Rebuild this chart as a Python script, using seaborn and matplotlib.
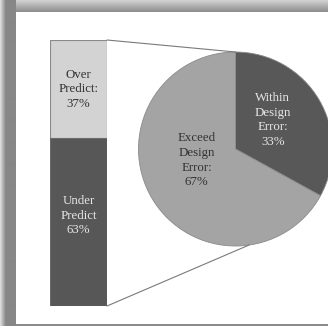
import numpy as np
import matplotlib
matplotlib.use("Agg")
import matplotlib.pyplot as plt
from matplotlib.patches import ConnectionPatch
import seaborn as sns

# Split of all predictions (stacked bar)
bar_labels = ["Over\nPredict:\n37%", "Under\nPredict\n63%"]
bar_values = [37, 63]          # over, under
bar_colors = ["#d3d3d3", "#575757"]
bar_text_colors = ["#333333", "#e6e6e6"]

# Breakdown of the under-predicted share (pie)
pie_labels = ["Within\nDesign\nError:\n33%", "Exceed\nDesign\nError:\n67%"]
pie_values = [33, 67]
pie_colors = ["#585858", "#a4a4a4"]
pie_text_colors = ["#e6e6e6", "#333333"]

W, H = 328, 326
sns.set_theme(style="white")
plt.rcParams["font.family"] = ["Liberation Serif", "DejaVu Serif"]

fig = plt.figure(figsize=(W / 100, H / 100), dpi=100)
fig.patch.set_facecolor("white")

# ---- framed panel background (shadowed border) ----
bg = fig.add_axes([0, 0, 1, 1])
bg.set_xlim(0, W)
bg.set_ylim(H, 0)
bg.axis("off")
top = np.linspace(0.84, 0.56, 12)[:, None] * np.ones((1, 2))
bg.imshow(top, cmap="gray", vmin=0, vmax=1, extent=(0, W, 12.5, 0),
          aspect="auto", interpolation="bilinear")
left = np.ones((2, 1)) * np.concatenate([np.linspace(0.86, 0.55, 6),
                                         np.full(10, 0.53)])[None, :]
bg.imshow(left, cmap="gray", vmin=0, vmax=1, extent=(0, 16, H, 0),
          aspect="auto", interpolation="bilinear")
bg.fill_between([16, W], 323.5, H, color="#8c8c8c", lw=0)

# ---- stacked bar ----
bar_ax = fig.add_axes([50 / W, (H - 306) / H, 57 / W, 266 / H])
total = sum(bar_values)
sns.barplot(x=["all"], y=[total], color=bar_colors[0], saturation=1,
            width=1, edgecolor="#8a8a8a", linewidth=0.8, ax=bar_ax)
sns.barplot(x=["all"], y=[bar_values[1]], color=bar_colors[1], saturation=1,
            width=1, edgecolor="#6a6a6a", linewidth=0.8, ax=bar_ax)
bar_ax.set_xlim(-0.5, 0.5)
bar_ax.set_ylim(0, total)
bar_ax.axis("off")
mid_over = bar_values[1] + bar_values[0] / 2
mid_under = bar_values[1] / 2 + 2.5
for y, lab, tc in [(mid_over, bar_labels[0], bar_text_colors[0]),
                   (mid_under, bar_labels[1], bar_text_colors[1])]:
    bar_ax.text(0, y, lab, ha="center", va="center", color=tc,
                fontsize=9.3, linespacing=1.3)

# ---- pie ----
cx, cy, r = 235.5, 149, 97
pie_ax = fig.add_axes([(cx - r) / W, (H - cy - r) / H, 2 * r / W, 2 * r / H])
wedges, _ = pie_ax.pie(pie_values, colors=pie_colors, startangle=90,
                       counterclock=False, radius=1,
                       wedgeprops=dict(edgecolor="#8a8a8a", linewidth=0.6))
for w in wedges:
    w.set_clip_on(False)
pie_ax.set_xlim(-1, 1)
pie_ax.set_ylim(-1, 1)
pie_ax.set_aspect("equal")
pie_ax.axis("off")
label_pos = [(0.385, 0.30), (-0.40, -0.115)]
for (x, y), lab, tc in zip(label_pos, pie_labels, pie_text_colors):
    pie_ax.text(x, y, lab, ha="center", va="center", color=tc,
                fontsize=9.3, linespacing=1.3)

# ---- connector lines from bar edges to the pie ----
a_top = np.deg2rad(90)
a_bot = np.deg2rad(-82)
for by, ang in [(total, a_top), (0, a_bot)]:
    con = ConnectionPatch(xyA=(0.5, by), coordsA=bar_ax.transData,
                          xyB=(np.cos(ang), np.sin(ang)), coordsB=pie_ax.transData,
                          color="#7a7a7a", linewidth=0.8)
    fig.add_artist(con)

fig.savefig("out.png", dpi=100)
